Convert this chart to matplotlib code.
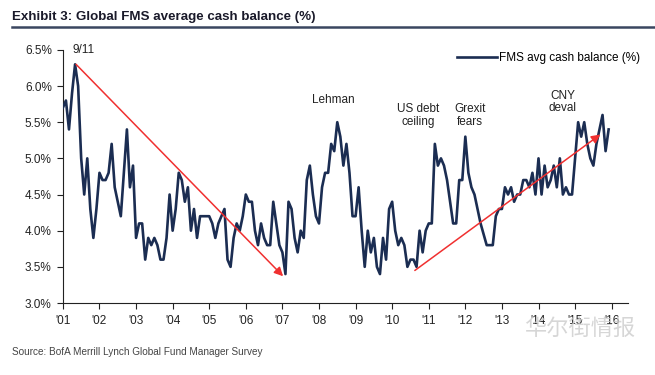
import numpy as np
import matplotlib
matplotlib.use('Agg')
import matplotlib.pyplot as plt

plt.rcParams['font.family'] = ['Liberation Sans', 'DejaVu Sans']

# FMS average cash balance (%), monthly, Jan 2001 onward
cash_2001 = [5.7, 5.8, 5.4, 5.9, 6.3, 6.0, 5.0, 4.5, 5.0, 4.3, 3.9, 4.3]
cash_2002 = [4.8, 4.7, 4.7, 4.8, 5.2, 4.6, 4.4, 4.2, 4.8, 5.4, 4.6, 4.9]
cash_2003 = [3.9, 4.1, 4.1, 3.6, 3.9, 3.8, 3.9, 3.8, 3.6, 3.6, 3.9, 4.5]
cash_2004 = [4.0, 4.3, 4.8, 4.7, 4.4, 4.6, 4.0, 4.3, 3.9, 4.2, 4.2, 4.2]
cash_2005 = [4.2, 4.1, 3.9, 4.1, 4.2, 4.3, 3.6, 3.5, 3.9, 4.1, 4.0, 4.2]
cash_2006 = [4.5, 4.4, 4.4, 4.0, 3.8, 4.1, 3.9, 3.8, 3.8, 4.4, 4.1, 3.8]
cash_2007 = [3.7, 3.4, 4.4, 4.3, 3.9, 3.7, 4.0, 3.9, 4.7, 4.9, 4.5, 4.2]
cash_2008 = [4.1, 4.6, 4.8, 4.8, 5.2, 5.1, 5.5, 5.3, 4.9, 5.2, 4.8, 4.2]
cash_2009 = [4.2, 4.6, 4.0, 3.5, 4.0, 3.7, 3.9, 3.5, 3.4, 3.9, 3.6, 4.3]
cash_2010 = [4.4, 4.0, 3.8, 3.9, 3.8, 3.5, 3.6, 3.6, 3.5, 4.0, 3.7, 4.0]
cash_2011 = [4.1, 4.1, 5.2, 4.9, 5.0, 4.9, 4.7, 4.4, 4.1, 4.1, 4.7, 4.7]
cash_2012 = [5.3, 4.8, 4.6, 4.5, 4.3, 4.1, 3.95, 3.8, 3.8, 3.8, 4.2, 4.3]
cash_2013 = [4.3, 4.6, 4.5, 4.6, 4.4, 4.5, 4.5, 4.7, 4.7, 4.6, 4.8, 4.5]
cash_2014 = [5.0, 4.5, 4.9, 4.6, 4.7, 4.9, 4.6, 5.0, 4.5, 4.6, 4.5, 4.5]
cash_2015 = [5.0, 5.5, 5.3, 5.5, 5.2, 5.0, 4.9, 5.2, 5.4, 5.6, 5.1, 5.4]

years = list(range(2001, 2017))
year_labels = ["'%02d" % (y % 100) for y in years]
y_ticks = [3.0, 3.5, 4.0, 4.5, 5.0, 5.5, 6.0, 6.5]

# event labels: (text, x year, y value)
events = [
    ('9/11', 2001.56, 6.5),
    ('Lehman', 2008.38, 5.81),
    ('US debt\nceiling', 2010.72, 5.59),
    ('Grexit\nfears', 2012.12, 5.59),
    ('CNY\ndeval', 2014.66, 5.78),
]
# trend arrows: (x0, y0, x1, y1)
arrows = [
    (2001.36, 6.30, 2007.02, 3.37),
    (2010.62, 3.45, 2015.69, 5.33),
]

cash = np.concatenate([cash_2001, cash_2002, cash_2003, cash_2004, cash_2005,
                       cash_2006, cash_2007, cash_2008, cash_2009, cash_2010,
                       cash_2011, cash_2012, cash_2013, cash_2014, cash_2015])
t = 2001 + np.arange(len(cash)) / 12.0

navy = '#1b2d52'

fig = plt.figure(figsize=(6.55, 3.75), dpi=100)
ax = fig.add_axes([0.096, 0.192, 0.863, 0.675])

ax.plot(t, cash, color=navy, lw=1.9, label='FMS avg cash balance (%)', zorder=3)

for x0, y0, x1, y1 in arrows:
    ax.annotate('', xy=(x1, y1), xytext=(x0, y0),
                arrowprops=dict(arrowstyle='-|>', color='#f03030', lw=1.1,
                                mutation_scale=13, shrinkA=0, shrinkB=0),
                zorder=4)

for txt, x, y in events:
    ax.text(x, y, txt, ha='center', va='center', fontsize=8.5,
            color='#222222', linespacing=1.05)

ax.set_xlim(2001, 2016.45)
ax.set_ylim(3.0, 6.5)
ax.set_xticks(years)
ax.set_xticklabels(year_labels)
ax.set_yticks(y_ticks)
ax.set_yticklabels(['%.1f%%' % v for v in y_ticks])
ax.tick_params(axis='both', direction='out', length=4, width=0.8,
               labelsize=8.5, colors='#222222', pad=4)
ax.tick_params(axis='x', pad=5)
for s in ['top', 'right']:
    ax.spines[s].set_visible(False)
for s in ['left', 'bottom']:
    ax.spines[s].set_color('#222222')
    ax.spines[s].set_linewidth(0.8)

leg = ax.legend(loc='upper right', frameon=False, fontsize=8.5,
                bbox_to_anchor=(1.04, 1.035), handlelength=3.4,
                handletextpad=0.2)

# title + rule
fig.text(0.018, 0.955, 'Exhibit 3: Global FMS average cash balance (%)',
         fontsize=9.6, fontweight='bold', color='#1a1a2a', va='center')
fig.add_artist(plt.Line2D([0.018, 1.0], [0.928, 0.928], color='#3a4660',
                          lw=1.8, transform=fig.transFigure))

fig.text(0.018, 0.062, 'Source: BofA Merrill Lynch Global Fund Manager Survey',
         fontsize=7.2, color='#444444', va='center')

# watermark
fig.text(0.97, 0.125, '华尔街情报', fontsize=16, color='#cccccc', alpha=0.8,
         ha='right', va='center', family=['Noto Sans CJK SC', 'DejaVu Sans'])

fig.savefig('out.png', dpi=100)
